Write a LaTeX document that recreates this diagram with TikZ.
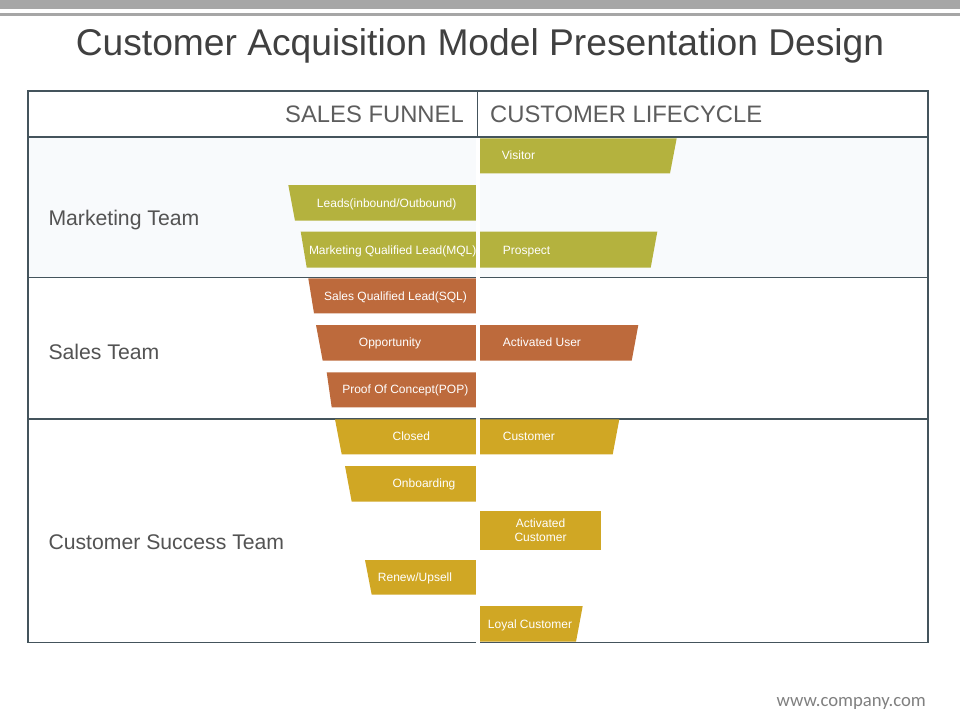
\documentclass[tikz,border=0pt]{standalone}
\usepackage{fontspec}
\setmainfont{Liberation Sans}
\newfontfamily\sitefont{Carlito}
\definecolor{olivefill}{HTML}{B4B23E}
\definecolor{rustfill}{HTML}{BD6A3C}
\definecolor{goldfill}{HTML}{D0A724}
\definecolor{framegray}{HTML}{44545C}
\definecolor{inkgray}{HTML}{404040}
\definecolor{bandgray}{HTML}{A6A6A6}
\definecolor{palerow}{HTML}{F8FAFC}
\tikzset{
  stagetext/.style={text=white, font=\fontsize{12}{14}\selectfont, inner sep=0pt,
    text height=8.6pt, text depth=0pt},
  teamtext/.style={text=inkgray!90, font=\fontsize{21.2}{24}\selectfont, inner sep=0pt,
    anchor=base west},
  headtext/.style={text=inkgray!85, font=\fontsize{23.8}{26}\selectfont, inner sep=0pt},
  rowline/.style={draw=framegray, line width=1.2pt}
}

\begin{document}
\begin{tikzpicture}[x=1pt,y=-1pt]
  \useasboundingbox (0,0) rectangle (960,720);
  \fill[white] (0,0) rectangle (960,720);
  % bands at the top
  \fill[bandgray] (0,0) rectangle (960,8.7);
  \fill[bandgray] (0,12.7) rectangle (960,16);
  \node[text=inkgray, font=\fontsize{37.2}{40}\selectfont, inner sep=0pt, anchor=base]
    (title) at (480,55) {Customer Acquisition Model Presentation Design};

  % table
  \fill[palerow] (28,137.3) rectangle (928,277.7);
  \draw[rowline] (28,91) rectangle (928,642.5);
  \draw[draw=framegray, line width=2pt] (28,137.3) -- (928,137.3);
  \draw[rowline] (28,277.7) -- (928,277.7);
  \draw[rowline] (28,419) -- (928,419);
  \draw[rowline] (477.3,91) -- (477.3,137.3);
  \node[headtext, anchor=base east] (funnel) at (464,122.5) {SALES FUNNEL};
  \node[headtext, anchor=base west] (lifecycle) at (490,122.5) {CUSTOMER LIFECYCLE};
  \node[teamtext] (marketing) at (48.3,225) {Marketing Team};
  \node[teamtext] (sales) at (48.3,359.3) {Sales Team};
  \node[teamtext] (success) at (48.3,549.3) {Customer Success Team};

  % sales funnel, left half
  \fill[olivefill] (288.3,185) -- (476,185) -- (476,220.7) -- (295,220.7) -- cycle;
  \fill[olivefill] (300.7,231.7) -- (476,231.7) -- (476,267.7) -- (306.7,267.7) -- cycle;
  \fill[rustfill] (308.3,278.3) -- (476,278.3) -- (476,313.3) -- (314,313.3) -- cycle;
  \fill[rustfill] (316,325) -- (476,325) -- (476,360.7) -- (322.7,360.7) -- cycle;
  \fill[rustfill] (326.7,372.3) -- (476,372.3) -- (476,407.3) -- (331.7,407.3) -- cycle;
  \fill[goldfill] (335,419.3) -- (476,419.3) -- (476,454.3) -- (341.7,454.3) -- cycle;
  \fill[goldfill] (345,466) -- (476,466) -- (476,501.7) -- (351.7,501.7) -- cycle;
  \fill[goldfill] (365,560) -- (476,560) -- (476,594.7) -- (371.7,594.7) -- cycle;

  % customer lifecycle, right half
  \fill[olivefill] (480,138.3) -- (676.7,138.3) -- (670,173.3) -- (480,173.3) -- cycle;
  \fill[olivefill] (480,231.7) -- (657.3,231.7) -- (650.7,267.7) -- (480,267.7) -- cycle;
  \fill[rustfill] (480,325) -- (638.3,325) -- (631.7,360.7) -- (480,360.7) -- cycle;
  \fill[goldfill] (480,419.3) -- (619.3,419.3) -- (612.7,454.3) -- (480,454.3) -- cycle;
  \fill[goldfill] (480,511) rectangle (601,550);
  \fill[goldfill] (480,606) -- (582.7,606) -- (576,641.7) -- (480,641.7) -- cycle;

  % gap between the halves
  \fill[white] (476,138.4) rectangle (480,643.6);

  \node[stagetext] (leads) at (386.7,202.8) {Leads(inbound/Outbound)};
  \node[stagetext] (mql) at (392.7,249.7) {Marketing Qualified Lead(MQL)};
  \node[stagetext] (sql) at (395.5,295.8) {Sales Qualified Lead(SQL)};
  \node[stagetext] (opportunity) at (390,341.7) {Opportunity};
  \node[stagetext] (pop) at (405.3,388.8) {Proof Of Concept(POP)};
  \node[stagetext] (closed) at (411.3,436.5) {Closed};
  \node[stagetext] (onboarding) at (424,482.8) {Onboarding};
  \node[stagetext] (renew) at (415,577.3) {Renew/Upsell};

  \node[stagetext, anchor=west] (visitor) at (501.7,155.3) {Visitor};
  \node[stagetext, anchor=west] (prospect) at (502.7,249.7) {Prospect};
  \node[stagetext, anchor=west] (activeuser) at (502.7,342.5) {Activated User};
  \node[stagetext, anchor=west] (customer) at (502.7,436.5) {Customer};
  \node[text=white, font=\fontsize{12}{14}\selectfont, inner sep=0pt, align=center]
    (activecustomer) at (540.5,530.3) {Activated\\Customer};
  \node[stagetext] (loyal) at (530,623.8) {Loyal Customer};

  \node[text=black!50, font=\sitefont\fontsize{18.7}{20}\selectfont, inner sep=0pt,
    anchor=base east] (site) at (926,706.5) {www.company.com};
\end{tikzpicture}
\end{document}
